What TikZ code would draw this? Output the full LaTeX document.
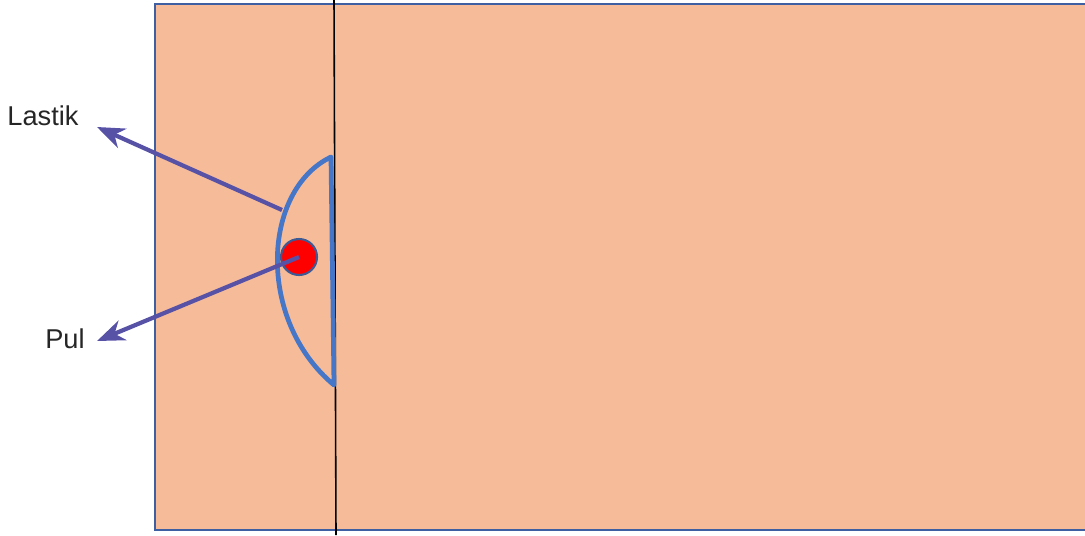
\documentclass[tikz,border=0pt]{standalone}
\usepackage{fontspec}
\setmainfont{Liberation Sans}
\usepackage{xcolor}
\usepackage{tikz}
\usetikzlibrary{arrows.meta,calc}
\definecolor{TableFill}{HTML}{F6BC99}
\definecolor{TableEdge}{HTML}{3F5FA3}
\definecolor{RubberBlue}{HTML}{4676C8}
\definecolor{ArrowPurple}{HTML}{5752A6}
\definecolor{PuckEdge}{HTML}{3D5A95}

\tikzset{
  pointer/.style={draw=ArrowPurple, line width=2.4pt,
    -{Stealth[length=0.55cm, width=0.42cm, inset=0.17cm]}},
  label/.style={font=\fontsize{15.5}{18}\selectfont, text=black!85, anchor=base, inner sep=0pt},
}

\begin{document}
\begin{tikzpicture}[x=0.02cm, y=-0.02cm]
  \useasboundingbox (0,0) rectangle (1085,535);

  % table
  \fill[TableFill] (155,4) rectangle (1085,530);
  \draw[TableEdge, line width=1.5pt] (1085,4) -- (155,4) -- (155,530) -- (1085,530);
  \draw[black, line width=0.9pt] (334,0) -- (336,535);

  % rubber band
  \coordinate (rtop) at (331,157);
  \coordinate (rbot) at (334,385);
  \coordinate (rhit) at (282,210);
  \draw[RubberBlue, line width=2.7pt, line join=round]
    (rtop) .. controls (262,190) and (256,320) .. (rbot) -- cycle;

  % puck
  \node[circle, fill=red, draw=PuckEdge, line width=1.2pt,
        minimum size=0.72cm, inner sep=0pt] (puck) at (299,257) {};

  % labels
  \node[label] (lastik) at (43,125) {Lastik};
  \node[label] (pul) at (65,348) {Pul};
  \coordinate (lastiktip) at (97,127);
  \coordinate (pultip) at (97,341);

  \draw[pointer] (rhit) -- (lastiktip);
  \draw[pointer] (puck.center) -- (pultip);
\end{tikzpicture}
\end{document}
